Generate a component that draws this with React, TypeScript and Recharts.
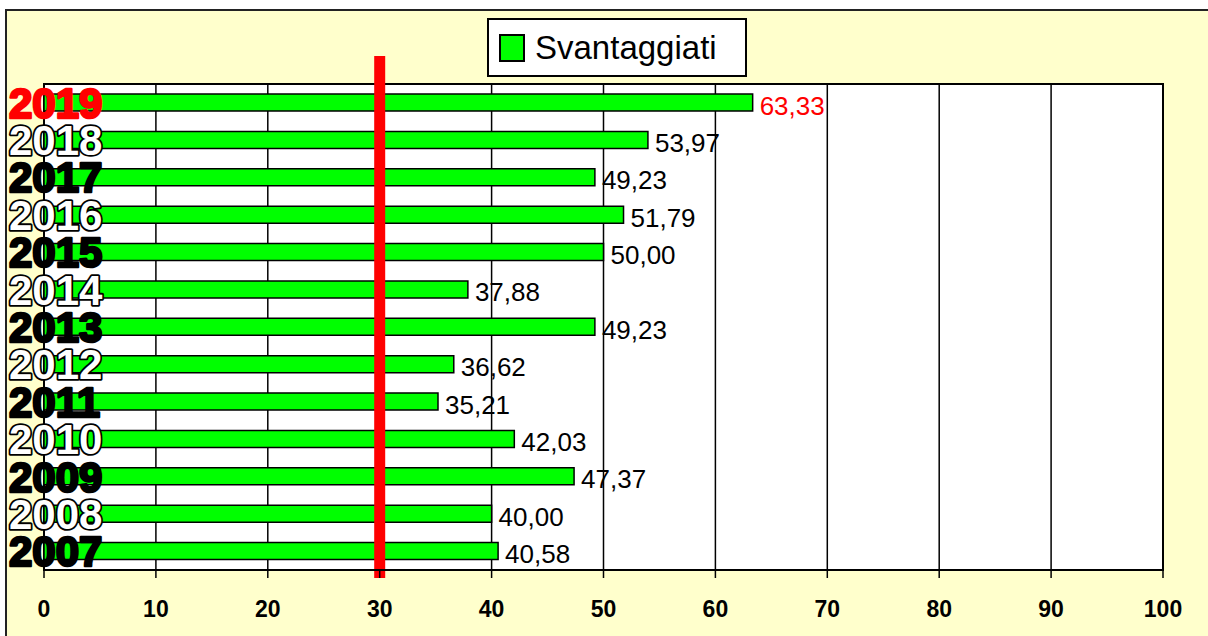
import React from 'react';
import { BarChart, Bar, XAxis, YAxis, CartesianGrid, ReferenceLine, ReferenceArea, LabelList } from 'recharts';

const years = ['2007', '2008', '2009', '2010', '2011', '2012', '2013', '2014', '2015', '2016', '2017', '2018', '2019'];
const svantaggiati = [40.58, 40.0, 47.37, 42.03, 35.21, 36.62, 49.23, 37.88, 50.0, 51.79, 49.23, 53.97, 63.33];
const xTicks = [0, 10, 20, 30, 40, 50, 60, 70, 80, 90, 100];
const threshold = 30;
const seriesName = 'Svantaggiati';
const highlightYear = '2019';

const data = years
  .map((y, i) => ({ year: y, value: svantaggiati[i] }))
  .reverse();

const FONT = 'Arial, "Liberation Sans", sans-serif';

const fmt = (v: number) => v.toFixed(2).replace('.', ',');

const YearTick = (props: any) => {
  const { y, payload } = props;
  const year = String(payload.value);
  const idx = years.indexOf(year);
  let fill = '#000';
  let stroke = '#000';
  let sw = 2.6;
  if (year === highlightYear) {
    fill = '#ff0000';
    stroke = '#ff0000';
  } else if (idx % 2 === 1) {
    fill = '#fff';
    stroke = '#000';
    sw = 3.6;
  }
  return (
    <text
      x={9}
      y={y}
      dy={15}
      textAnchor="start"
      fontFamily={FONT}
      fontWeight="bold"
      fontSize={42}
      fill={fill}
      stroke={stroke}
      strokeWidth={sw}
      paintOrder="stroke"
      strokeLinejoin="round"
    >
      {year}
    </text>
  );
};

const XTick = (props: any) => {
  const { x, y, payload } = props;
  return (
    <text x={x} y={y} dy={37} textAnchor="middle" fontFamily={FONT} fontWeight="bold" fontSize={23} fill="#000">
      {payload.value}
    </text>
  );
};

const ValueLabel = (props: any) => {
  const { x, y, width, height, value, index } = props;
  const isHi = data[index] && data[index].year === highlightYear;
  return (
    <text
      x={x + width + 7}
      y={y + height / 2 + 3}
      dominantBaseline="central"
      fontFamily={FONT}
      fontSize={26}
      fill={isHi ? '#ff0000' : '#000'}
    >
      {fmt(value)}
    </text>
  );
};

const ThresholdShape = (props: any) => {
  const { x1, y1, y2 } = props;
  const top = Math.min(y1, y2);
  const bottom = Math.max(y1, y2);
  return <rect x={x1 - 5.5} y={top - 28} width={11} height={bottom - top + 36} fill="#ff0000" />;
};

const LegendBox = () => (
  <div
    style={{
      position: 'absolute',
      left: 487,
      top: 18,
      width: 256,
      height: 55,
      background: '#fff',
      border: '2px solid #000',
      display: 'flex',
      alignItems: 'center',
      fontFamily: FONT,
      fontSize: 33,
      color: '#000',
    }}
  >
    <div style={{ width: 22, height: 24, background: '#00ff00', border: '2px solid #000', marginLeft: 10, marginRight: 10 }} />
    <span>{seriesName}</span>
  </div>
);

export default function App() {
  return (
    <div style={{ position: 'absolute', left: 0, top: 0, width: 1208, height: 636, overflow: 'hidden', background: '#fff' }}>
      <div
        style={{
          position: 'absolute',
          left: 5,
          top: 9,
          right: 0,
          bottom: 0,
          background: '#ffffcc',
          borderLeft: '2px solid #222',
          borderTop: '2px solid #222',
        }}
      />
      <div style={{ position: 'absolute', left: 0, top: 0 }}>
        <BarChart
          width={1208}
          height={636}
          data={data}
          layout="vertical"
          margin={{ top: 84, right: 45, bottom: 0, left: 0 }}
        >
          <CartesianGrid horizontal={false} vertical stroke="#000" strokeWidth={1.5} fill="#fff" fillOpacity={1} />
          <ReferenceArea x1={0} x2={100} fill="none" stroke="#000" strokeWidth={2} ifOverflow="visible" />
          <XAxis
            type="number"
            domain={[0, 100]}
            ticks={xTicks}
            interval={0}
            height={66}
            axisLine={{ stroke: '#000', strokeWidth: 2 }}
            tickLine={{ stroke: '#000', strokeWidth: 1.5 }}
            tickSize={8}
            tick={<XTick />}
          />
          <Bar dataKey="value" name={seriesName} fill="#00ff00" stroke="#000" strokeWidth={1.5} barSize={17} isAnimationActive={false}>
            <LabelList dataKey="value" content={<ValueLabel />} />
          </Bar>
          <ReferenceLine x={threshold} shape={<ThresholdShape />} ifOverflow="visible" />
          <YAxis
            type="category"
            dataKey="year"
            width={44}
            axisLine={false}
            tickLine={false}
            tick={<YearTick />}
            interval={0}
          />
        </BarChart>
      </div>
      <LegendBox />
    </div>
  );
}
